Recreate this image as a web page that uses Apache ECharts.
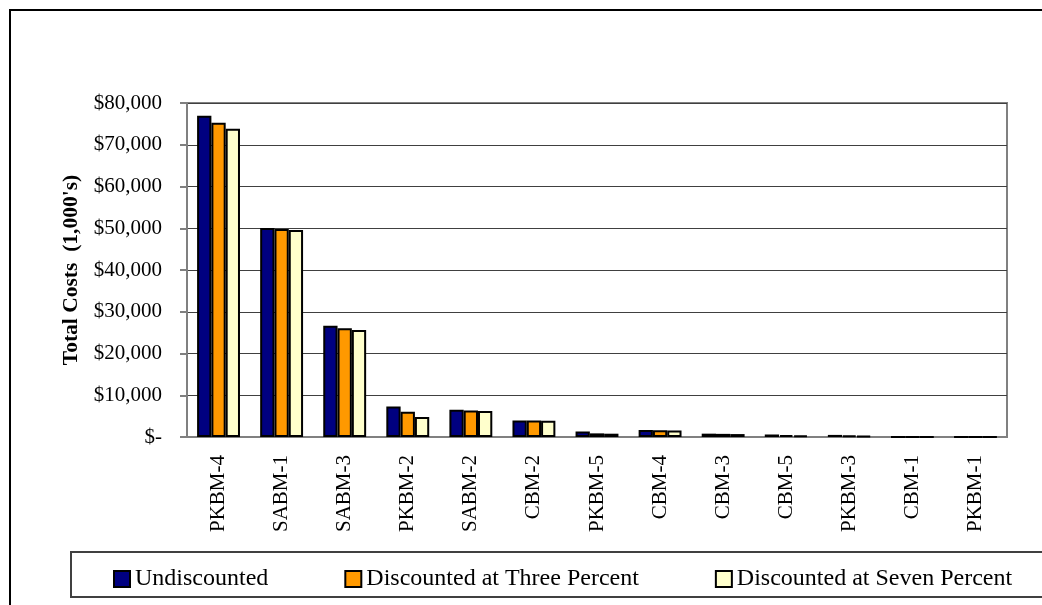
<!DOCTYPE html>
<html>
<head>
<meta charset="utf-8">
<script src="https://cdn.jsdelivr.net/npm/echarts@6/dist/echarts.min.js"></script>
<style>
	html, body { margin: 0; padding: 0; background: #fff; }
	#chart { width: 1042px; height: 605px; }
</style>
</head>
<body>
<div id="chart"></div>
<script>
var categories = ['PKBM-4', 'SABM-1', 'SABM-3', 'PKBM-2', 'SABM-2', 'CBM-2', 'PKBM-5', 'CBM-4', 'CBM-3', 'CBM-5', 'PKBM-3', 'CBM-1', 'PKBM-1'];
var undiscounted = [76950, 50050, 26650, 7300, 6500, 3980, 1330, 1650, 800, 600, 500, 30, 20];
var threePercent = [75280, 49820, 26020, 6060, 6350, 3960, 870, 1600, 750, 450, 350, 25, 15];
var sevenPercent = [73850, 49580, 25630, 4790, 6250, 3900, 790, 1580, 700, 350, 250, 20, 10];
var seriesNames = ['Undiscounted', 'Discounted at Three Percent', 'Discounted at Seven Percent'];
var seriesColors = ['#000080', '#FF9900', '#FFFFCC'];
var yTicks = { min: 0, max: 80000, interval: 10000 };

var serif = "'Liberation Serif', 'Times New Roman', serif";
var chart = echarts.init(document.getElementById('chart'));

function money(v) {
	if (v === 0) return '$-';
	return '$' + v.toLocaleString('en-US');
}

var valueLists = [undiscounted, threePercent, sevenPercent];
var series = [];
for (var i = 0; i < valueLists.length; i++) {
	series.push({
		name: seriesNames[i],
		type: 'bar',
		data: valueLists[i],
		barGap: '0%',
		barCategoryGap: '32%',
		itemStyle: {
			color: seriesColors[i],
			borderColor: '#000',
			borderWidth: 2
		}
	});
}

var option = {
	backgroundColor: '#fff',
	animation: false,
	textStyle: { fontFamily: serif },
	graphic: [{
		type: 'rect',
		shape: { x: 10, y: 10, width: 1100, height: 700 },
		style: { fill: 'none', stroke: '#000', lineWidth: 2 },
		z: -1
	}, {
		type: 'rect',
		shape: { x: 71, y: 552, width: 1100, height: 45 },
		style: { fill: 'none', stroke: '#404040', lineWidth: 2 },
		z: -1
	}],
	grid: {
		left: 187,
		right: 35,
		top: 103,
		bottom: 168,
		show: true,
		borderColor: '#808080',
		borderWidth: 2
	},
	legend: {
		left: 108,
		top: 562,
		itemWidth: 16,
		itemHeight: 16,
		itemGap: 76,
		icon: 'rect',
		textStyle: { fontFamily: serif, fontSize: 24, color: '#000' },
		data: seriesNames
	},
	xAxis: {
		type: 'category',
		data: categories,
		axisLine: { lineStyle: { color: '#808080', width: 2 } },
		axisTick: { length: 6, lineStyle: { color: '#808080', width: 2 } },
		axisLabel: {
			rotate: 90,
			margin: 18,
			fontFamily: serif,
			fontSize: 21,
			color: '#000'
		}
	},
	yAxis: {
		type: 'value',
		min: yTicks.min,
		max: yTicks.max,
		interval: yTicks.interval,
		name: "Total Costs  (1,000's)",
		nameLocation: 'middle',
		nameGap: 56,
		nameTextStyle: { fontFamily: serif, fontSize: 21.5, fontWeight: 'bold', color: '#000' },
		axisLine: { show: true, lineStyle: { color: '#808080', width: 2 } },
		axisTick: { show: true, length: 7, lineStyle: { color: '#808080', width: 2 } },
		axisLabel: {
			formatter: money,
			margin: 25,
			fontFamily: serif,
			fontSize: 21,
			color: '#000'
		},
		splitLine: { lineStyle: { color: '#404040', width: 1 } }
	},
	series: series
};
chart.setOption(option);
</script>
</body>
</html>
